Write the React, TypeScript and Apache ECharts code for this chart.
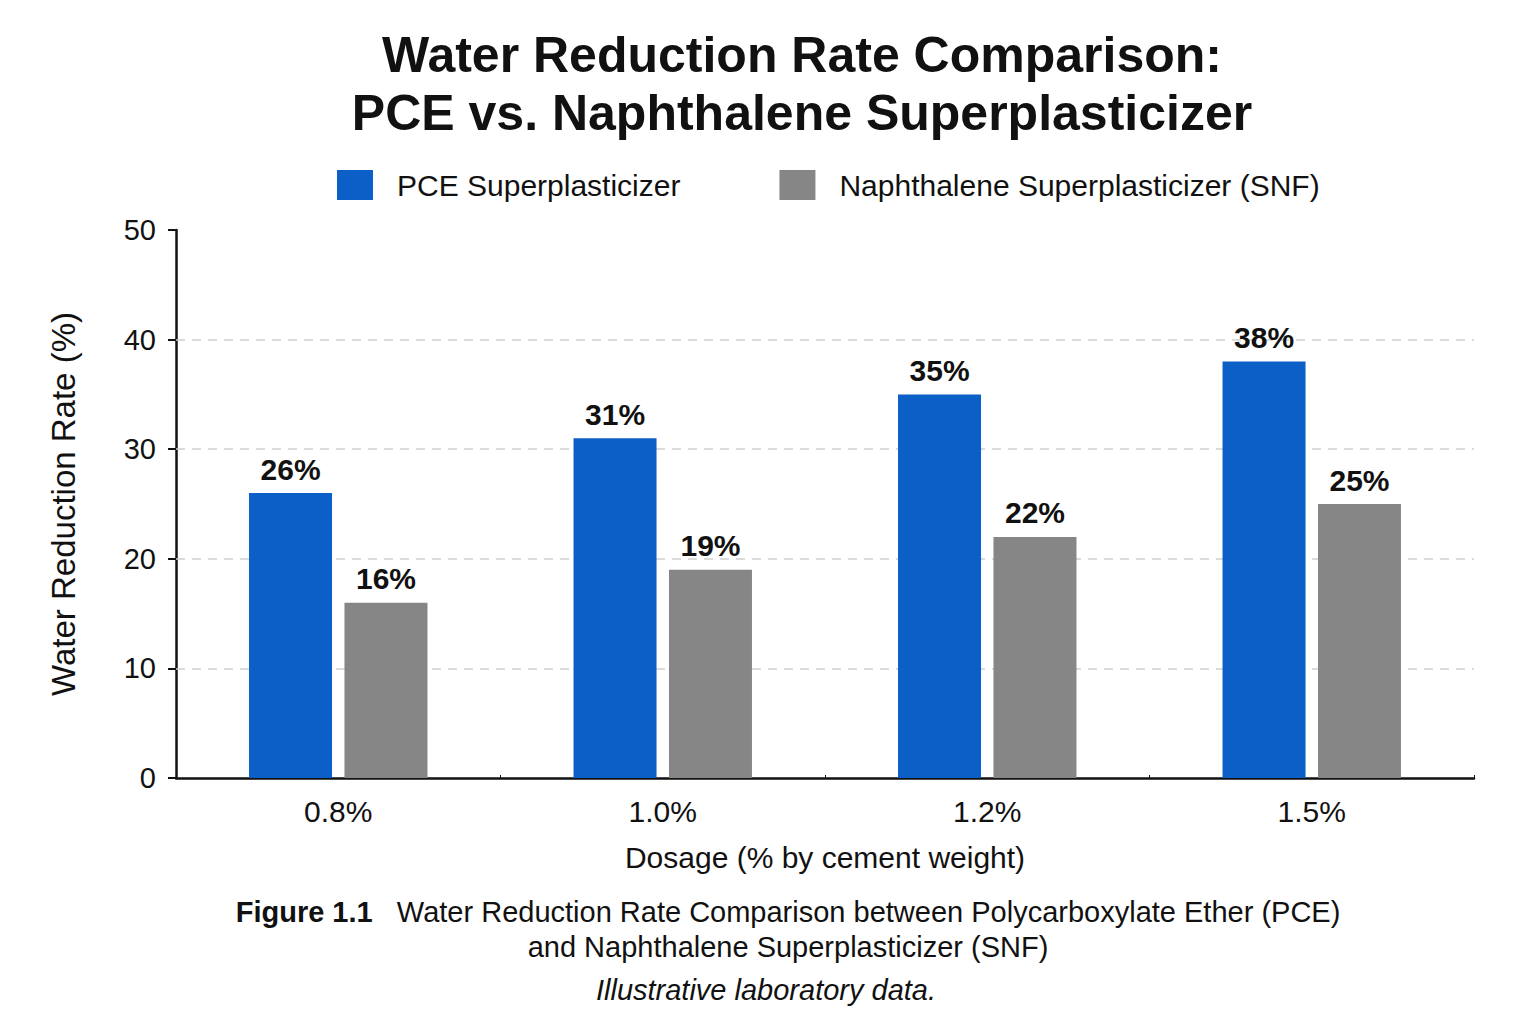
import React, { useEffect, useRef } from "react";
import * as echarts from "echarts";

const categories = ["0.8%", "1.0%", "1.2%", "1.5%"];
const pceValues = [26, 31, 35, 38];
const snfValues = [16, 19, 22, 25];
const gridValues = [10, 20, 30, 40];
const seriesNames = ["PCE Superplasticizer", "Naphthalene Superplasticizer (SNF)"];
const titleLines = ["Water Reduction Rate Comparison:", "PCE vs. Naphthalene Superplasticizer"];
const xAxisName = "Dosage (% by cement weight)";
const yAxisName = "Water Reduction Rate (%)";
const captionBold = "Figure 1.1";
const captionLine1 = "Water Reduction Rate Comparison between Polycarboxylate Ether (PCE)";
const captionLine2 = "and Naphthalene Superplasticizer (SNF)";
const captionNote = "Illustrative laboratory data.";

const FONT = "'Liberation Sans', Arial, Helvetica, sans-serif";

export default function App() {
  const ref = useRef<HTMLDivElement>(null);
  useEffect(() => {
    if (!ref.current) return;
    const chart = echarts.init(ref.current, null, { renderer: "svg" });
    const labelStyle = {
      show: true,
      position: "top" as const,
      distance: 9,
      formatter: "{c}%",
      fontFamily: FONT,
      fontSize: 30,
      fontWeight: "bold" as const,
      color: "#111",
    };
    chart.setOption({
      animation: false,
      backgroundColor: "#ffffff",
      textStyle: { fontFamily: FONT },
      legend: {
        left: 332,
        top: 165,
        itemWidth: 36,
        itemHeight: 30,
        itemGap: 99,
        icon: "rect",
        textStyle: { fontFamily: FONT, fontSize: 30, color: "#111", padding: [0, 0, 0, 19] },
        data: seriesNames,
      },
      grid: { left: 176, right: 62, top: 230, bottom: 246 },
      xAxis: {
        type: "category",
        data: categories,
        name: xAxisName,
        nameLocation: "middle",
        nameGap: 64,
        nameTextStyle: { fontFamily: FONT, fontSize: 30, color: "#111" },
        axisLine: { lineStyle: { color: "#111", width: 2.5 } },
        axisTick: { show: true, inside: true, length: 3, lineStyle: { color: "#111" } },
        axisLabel: { fontFamily: FONT, fontSize: 30, color: "#111", margin: 18 },
      },
      yAxis: {
        type: "value",
        min: 0,
        max: 50,
        interval: 10,
        name: yAxisName,
        nameLocation: "middle",
        nameGap: 96,
        nameTextStyle: { fontFamily: FONT, fontSize: 33, color: "#111" },
        axisLine: { show: true, lineStyle: { color: "#111", width: 2.5 } },
        axisTick: { show: true, length: 8, lineStyle: { color: "#111", width: 2 } },
        axisLabel: { fontFamily: FONT, fontSize: 29, color: "#111", margin: 20 },
        splitLine: { show: false },
      },
      series: [
        {
          name: seriesNames[0],
          type: "bar",
          data: pceValues,
          barWidth: 83,
          barGap: "15%",
          z: 3,
          itemStyle: { color: "#0b5fc6" },
          label: labelStyle,
          markLine: {
            silent: true,
            symbol: "none",
            z: 1,
            label: { show: false },
            lineStyle: { color: "#d0d0d0", type: [9, 7], width: 1.5 },
            data: gridValues.map((v) => ({ yAxis: v })),
          },
        },
        {
          name: seriesNames[1],
          type: "bar",
          data: snfValues,
          barWidth: 83,
          z: 3,
          itemStyle: { color: "#868686" },
          label: labelStyle,
        },
      ],
      graphic: [
        {
          type: "text",
          x: 802,
          y: 26,
          style: {
            text: titleLines.join("\n"),
            fontFamily: FONT,
            fontSize: 50,
            fontWeight: "bold",
            fill: "#111",
            align: "center",
            lineHeight: 58,
          },
        },
        {
          type: "text",
          x: 788,
          y: 894,
          style: {
            text: `{b|${captionBold}}{r|   ${captionLine1}}\n{r|${captionLine2}}`,
            align: "center",
            fontFamily: FONT,
            fontSize: 29,
            lineHeight: 35,
            fill: "#111",
            rich: {
              b: { fontFamily: FONT, fontSize: 29, fontWeight: "bold", fill: "#111", lineHeight: 35 },
              r: { fontFamily: FONT, fontSize: 29, fill: "#111", lineHeight: 35 },
            },
          },
        },
        {
          type: "text",
          x: 766,
          y: 975,
          style: {
            text: captionNote,
            align: "center",
            fontFamily: FONT,
            fontSize: 29,
            fontStyle: "italic",
            fill: "#111",
          },
        },
      ],
    });
    return () => chart.dispose();
  }, []);
  return (
    <div
      ref={ref}
      style={{ position: "fixed", left: 0, top: 0, width: 1536, height: 1024, background: "#fff" }}
    />
  );
}
